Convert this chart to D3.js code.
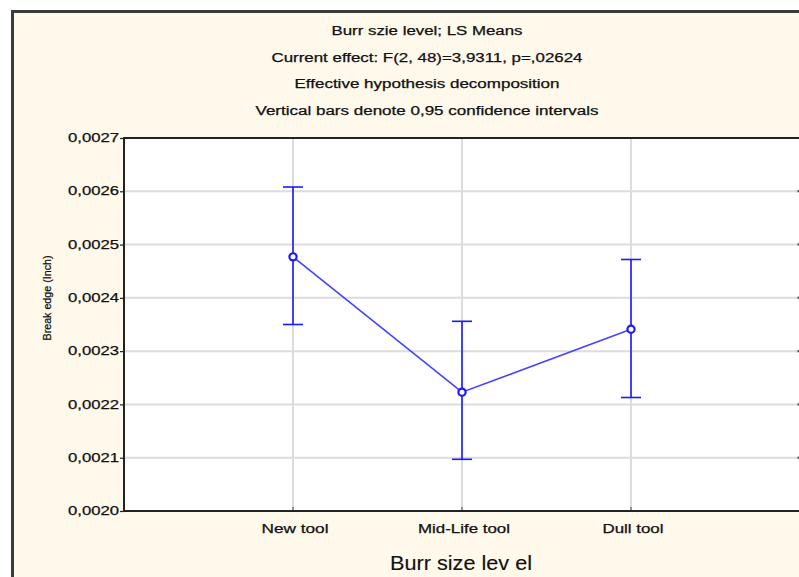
<!DOCTYPE html>
<html><head><meta charset="utf-8">
<script src="https://cdn.jsdelivr.net/npm/d3@7"></script>
<style>body{margin:0;background:#fff}svg{display:block}text{font-family:"Liberation Sans",Arial,sans-serif;fill:#111;stroke:#111;stroke-width:0.25px}</style>
</head><body><svg id="c" width="799" height="577"></svg>
<script>
const categories = ["New tool", "Mid-Life tool", "Dull tool"];
const means = [0.002477, 0.002223, 0.002341];
const upper = [0.002608, 0.002356, 0.002472];
const lower = [0.002350, 0.002097, 0.002213];
const yTicks = [0.0020, 0.0021, 0.0022, 0.0023, 0.0024, 0.0025, 0.0026, 0.0027];
const yTickLabels = ["0,0020", "0,0021", "0,0022", "0,0023", "0,0024", "0,0025", "0,0026", "0,0027"];
const titleLines = ["Burr szie level; LS Means", "Current effect: F(2, 48)=3,9311, p=,02624", "Effective hypothesis decomposition", "Vertical bars denote 0,95 confidence intervals"];
const titleWidths = [191, 311, 265, 343];
const catWidths = [67, 92, 61];

const svg = d3.select("#c");
const L = 124, R = 800, T = 138, B = 511;
const x = d3.scaleLinear().domain([0, categories.length + 1]).range([L, R]);
const y = d3.scaleLinear().domain([0.0020, 0.0027]).range([B, T]);

// frame
svg.append("rect").attr("x", 12.5).attr("y", 11.5).attr("width", 800).attr("height", 600)
  .attr("fill", "#fff9ec").attr("stroke", "#3c3c3c").attr("stroke-width", 3);

// titles
titleLines.forEach((t, i) => {
  svg.append("text").attr("x", 427).attr("y", 35 + i * 26.5).attr("text-anchor", "middle")
    .attr("font-size", 12).attr("textLength", titleWidths[i]).attr("lengthAdjust", "spacingAndGlyphs").text(t);
});

// plot area
svg.append("rect").attr("x", L).attr("y", T).attr("width", R - L).attr("height", B - T).attr("fill", "#fff");

// gridlines
svg.append("g").selectAll("line").data(yTicks.slice(1, -1)).join("line")
  .attr("x1", L).attr("x2", R).attr("y1", d => y(d)).attr("y2", d => y(d))
  .attr("stroke", "#dcdcdc").attr("stroke-width", 2);
svg.append("g").selectAll("line").data(categories).join("line")
  .attr("x1", (d, i) => x(i + 1)).attr("x2", (d, i) => x(i + 1)).attr("y1", T).attr("y2", B)
  .attr("stroke", "#dcdcdc").attr("stroke-width", 2);

// right ticks
svg.append("g").selectAll("line").data(yTicks.slice(1, -1)).join("line")
  .attr("x1", 797.5).attr("x2", 800).attr("y1", d => y(d)).attr("y2", d => y(d))
  .attr("stroke", "#444").attr("stroke-width", 2);

// axes
const yAxis = d3.axisLeft(y).tickValues(yTicks).tickSize(4).tickFormat((d, i) => yTickLabels[i]);
const gy = svg.append("g").attr("transform", `translate(${L},0)`).call(yAxis);
gy.select(".domain").remove();
gy.selectAll(".tick line").attr("stroke", "#222").attr("stroke-width", 1.2);
gy.selectAll(".tick text").attr("font-size", 12).attr("font-family", null).attr("fill", "#111")
  .attr("x", -5).attr("dy", "0.3em").attr("textLength", 51).attr("lengthAdjust", "spacingAndGlyphs");

// bottom category labels
svg.append("g").selectAll("text").data(categories).join("text")
  .attr("x", (d, i) => x(i + 1) + 2).attr("y", 533).attr("text-anchor", "middle").attr("font-size", 12)
  .attr("textLength", (d, i) => catWidths[i]).attr("lengthAdjust", "spacingAndGlyphs").text(d => d);
svg.append("g").selectAll("line").data(categories).join("line")
  .attr("x1", (d, i) => x(i + 1)).attr("x2", (d, i) => x(i + 1)).attr("y1", B - 4).attr("y2", B)
  .attr("stroke", "#777").attr("stroke-width", 1.5);

// axis box lines
svg.append("line").attr("x1", L).attr("x2", R).attr("y1", T).attr("y2", T).attr("stroke", "#222").attr("stroke-width", 2);
svg.append("line").attr("x1", L).attr("x2", R).attr("y1", B).attr("y2", B).attr("stroke", "#222").attr("stroke-width", 2);
svg.append("line").attr("x1", L).attr("x2", L).attr("y1", T - 1).attr("y2", B + 1).attr("stroke", "#222").attr("stroke-width", 2);

// axis titles
svg.append("text").attr("x", 461).attr("y", 570).attr("text-anchor", "middle").attr("font-size", 21)
  .style("stroke-width", "0.15px")
  .attr("textLength", 142).attr("lengthAdjust", "spacingAndGlyphs").text("Burr size lev el");
svg.append("text").attr("transform", "translate(51,298) rotate(-90)").attr("text-anchor", "middle")
  .attr("font-size", 11.5).attr("textLength", 85).attr("lengthAdjust", "spacingAndGlyphs").text("Break edge (Inch)");

// error bars
const eb = svg.append("g").attr("stroke", "#1a1aff").attr("stroke-width", 1.6).attr("fill", "none");
categories.forEach((c, i) => {
  const cx = x(i + 1);
  eb.append("line").attr("x1", cx).attr("x2", cx).attr("y1", y(upper[i])).attr("y2", y(lower[i]));
  eb.append("line").attr("x1", cx - 10).attr("x2", cx + 10).attr("y1", y(upper[i])).attr("y2", y(upper[i]));
  eb.append("line").attr("x1", cx - 10).attr("x2", cx + 10).attr("y1", y(lower[i])).attr("y2", y(lower[i]));
});

// mean line
const line = d3.line().x((d, i) => x(i + 1)).y(d => y(d));
svg.append("path").attr("d", line(means)).attr("fill", "none").attr("stroke", "#4444ff").attr("stroke-width", 1.6);
svg.append("g").selectAll("circle").data(means).join("circle")
  .attr("cx", (d, i) => x(i + 1)).attr("cy", d => y(d)).attr("r", 3.6)
  .attr("fill", "#fff").attr("stroke", "#1a1aff").attr("stroke-width", 2.2);
</script></body></html>
